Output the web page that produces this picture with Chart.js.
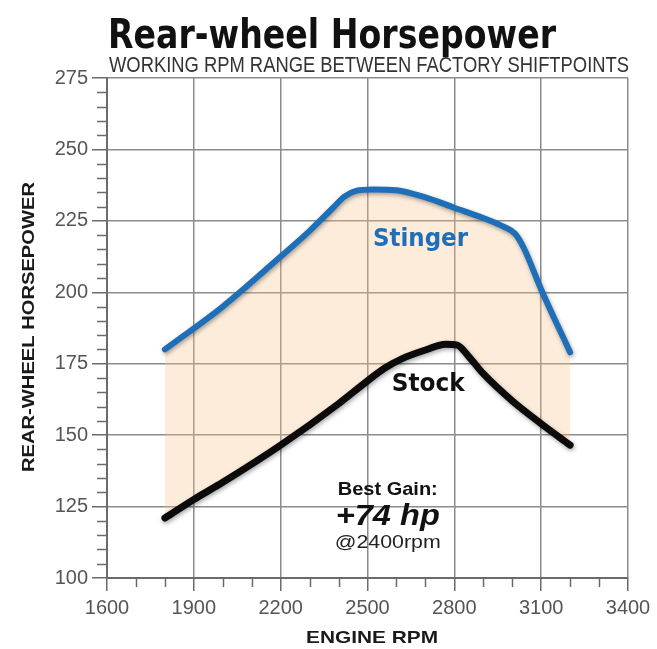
<!DOCTYPE html>
<html>
<head>
<meta charset="utf-8">
<script src="https://cdn.jsdelivr.net/npm/chart.js@4.4.1/dist/chart.umd.min.js"></script>
<style>
  html, body { margin: 0; padding: 0; background: #fff; }
  #wrap { width: 657px; height: 649px; position: relative; }
</style>
</head>
<body>
<div id="wrap"><canvas id="hpChart" width="657" height="649"></canvas></div>
<script>
// engine rpm / rear-wheel hp
const stingerRpm = [1800, 2000, 2200, 2300, 2380, 2420, 2460, 2520, 2600, 2700, 2800, 2900, 2970, 3010, 3040, 3100, 3200];
const stingerHp  = [180, 195, 212.5, 221.5, 229.5, 233.5, 235.5, 236, 235.7, 233.2, 229.6, 226, 223, 220.5, 215.5, 201, 179];
const stockRpm = [1800, 1900, 2000, 2200, 2400, 2500, 2560, 2620, 2700, 2770, 2810, 2850, 2900, 3000, 3100, 3200];
const stockHp  = [121, 127.5, 133.5, 146.5, 161, 169, 173.5, 176.8, 179.8, 181.8, 181.5, 177.5, 171.5, 162, 154, 146.5];
const xTicks = [1600, 1900, 2200, 2500, 2800, 3100, 3400];
const yTicks = [100, 125, 150, 175, 200, 225, 250, 275];

const toPoints = (xs, ys) => xs.map((x, i) => ({ x: x, y: ys[i] }));

// draw a string squeezed/stretched to a given width
function fitText(ctx, text, x, y, width, font, color, align) {
    ctx.save();
    ctx.font = font;
    ctx.fillStyle = color;
    ctx.textBaseline = 'alphabetic';
    const w = ctx.measureText(text).width;
    const sx = width / w;
    let left = x;
    if (align === 'center') left = x - width / 2;
    ctx.translate(left, y);
    ctx.scale(sx, 1);
    ctx.textAlign = 'left';
    ctx.fillText(text, 0, 0);
    ctx.restore();
}

const lineShadow = {
    id: 'lineShadow',
    beforeDatasetDraw(chart) {
        const ctx = chart.ctx;
        ctx.save();
        ctx.shadowColor = 'rgba(0,0,0,0.35)';
        ctx.shadowBlur = 4;
        ctx.shadowOffsetX = 1;
        ctx.shadowOffsetY = 2;
    },
    afterDatasetDraw(chart) {
        chart.ctx.restore();
    }
};

const extras = {
    id: 'extras',
    afterDraw(chart) {
        const ctx = chart.ctx;
        const xs = chart.scales.x, ys = chart.scales.y;
        const area = chart.chartArea;

        // minor tick marks
        ctx.save();
        ctx.strokeStyle = '#6b6b6b';
        ctx.lineWidth = 1.5;
        for (let v = 1600; v <= 3400; v += 100) {
            if ((v - 1600) % 300 === 0) continue;
            const px = Math.round(xs.getPixelForValue(v)) + 0.5;
            ctx.beginPath();
            ctx.moveTo(px, area.bottom);
            ctx.lineTo(px, area.bottom + 9);
            ctx.stroke();
        }
        for (let v = 100; v <= 275; v += 5) {
            if (v % 25 === 0) continue;
            const py = Math.round(ys.getPixelForValue(v)) + 0.5;
            ctx.beginPath();
            ctx.moveTo(area.left - 10, py);
            ctx.lineTo(area.left, py);
            ctx.stroke();
        }
        ctx.restore();

        // titles
        fitText(ctx, 'Rear-wheel Horsepower', 108, 48, 448, 'bold 40px "DejaVu Sans", Arial, sans-serif', '#111', 'left');
        fitText(ctx, 'WORKING RPM RANGE BETWEEN FACTORY SHIFTPOINTS', 109, 72, 520, '22px "Liberation Sans", Arial, sans-serif', '#333', 'left');

        // axis titles
        fitText(ctx, 'ENGINE RPM', 372, 643, 132, 'bold 17px "Liberation Sans", Arial, sans-serif', '#1a1a1a', 'center');
        ctx.save();
        ctx.translate(34, 327);
        ctx.rotate(-Math.PI / 2);
        fitText(ctx, 'REAR-WHEEL HORSEPOWER', 0, 0, 290, 'bold 17px "Liberation Sans", Arial, sans-serif', '#1a1a1a', 'center');
        ctx.restore();

        // series labels placed in data space
        fitText(ctx, 'Stinger', xs.getPixelForValue(2683), ys.getPixelForValue(216.3), 95, 'bold 24px "DejaVu Sans", Arial, sans-serif', '#1f6fb8', 'center');
        fitText(ctx, 'Stock', xs.getPixelForValue(2710), ys.getPixelForValue(165.5), 73, 'bold 24px "DejaVu Sans", Arial, sans-serif', '#111', 'center');

        // best gain note
        const gx = xs.getPixelForValue(2570);
        fitText(ctx, 'Best Gain:', gx, ys.getPixelForValue(129), 100, 'bold 19px "Liberation Sans", Arial, sans-serif', '#111', 'center');
        fitText(ctx, '+74 hp', gx, ys.getPixelForValue(118.4), 104, 'bold italic 30px "Liberation Sans", Arial, sans-serif', '#111', 'center');
        fitText(ctx, '@2400rpm', gx, ys.getPixelForValue(110.6), 106, '18px "Liberation Sans", Arial, sans-serif', '#222', 'center');
    }
};

new Chart(document.getElementById('hpChart'), {
    type: 'line',
    data: {
        datasets: [{
            label: 'Stinger',
            data: toPoints(stingerRpm, stingerHp),
            borderColor: '#1f6fb8',
            borderWidth: 6,
            borderCapStyle: 'round',
            borderJoinStyle: 'round',
            pointRadius: 0,
            cubicInterpolationMode: 'monotone',
            fill: '+1',
            backgroundColor: 'rgba(248, 196, 140, 0.32)'
        }, {
            label: 'Stock',
            data: toPoints(stockRpm, stockHp),
            borderColor: '#0b0b0b',
            borderWidth: 7,
            borderCapStyle: 'round',
            borderJoinStyle: 'round',
            pointRadius: 0,
            cubicInterpolationMode: 'monotone',
            fill: false
        }]
    },
    options: {
        responsive: false,
        animation: false,
        layout: { padding: { top: 78, right: 29, left: 0, bottom: 0 } },
        plugins: {
            legend: { display: false },
            tooltip: { enabled: false },
            title: { display: false },
            filler: { drawTime: 'beforeDatasetsDraw' }
        },
        scales: {
            x: {
                type: 'linear',
                min: 1600,
                max: 3400,
                afterFit: (scale) => { scale.height = 71; },
                afterBuildTicks: (scale) => { scale.ticks = xTicks.map(v => ({ value: v })); },
                grid: {
                    color: '#8c8c8c',
                    lineWidth: 1.5,
                    tickLength: 13,
                    tickColor: '#6b6b6b',
                    tickWidth: 1.5
                },
                border: { color: '#6b6b6b', width: 2 },
                ticks: {
                    color: '#555',
                    padding: 5,
                    maxRotation: 0,
                    callback: (v) => String(v),
                    font: { family: '"Liberation Sans", Arial, sans-serif', size: 20 }
                }
            },
            y: {
                min: 100,
                max: 275,
                afterFit: (scale) => { scale.width = 107; },
                afterBuildTicks: (scale) => { scale.ticks = yTicks.map(v => ({ value: v })); },
                grid: {
                    color: '#8c8c8c',
                    lineWidth: 1.5,
                    tickLength: 15,
                    tickColor: '#6b6b6b',
                    tickWidth: 1.5
                },
                border: { color: '#6b6b6b', width: 2 },
                ticks: {
                    color: '#555',
                    padding: 4,
                    font: { family: '"Liberation Sans", Arial, sans-serif', size: 20 }
                }
            }
        }
    },
    plugins: [lineShadow, extras]
});
</script>
</body>
</html>
